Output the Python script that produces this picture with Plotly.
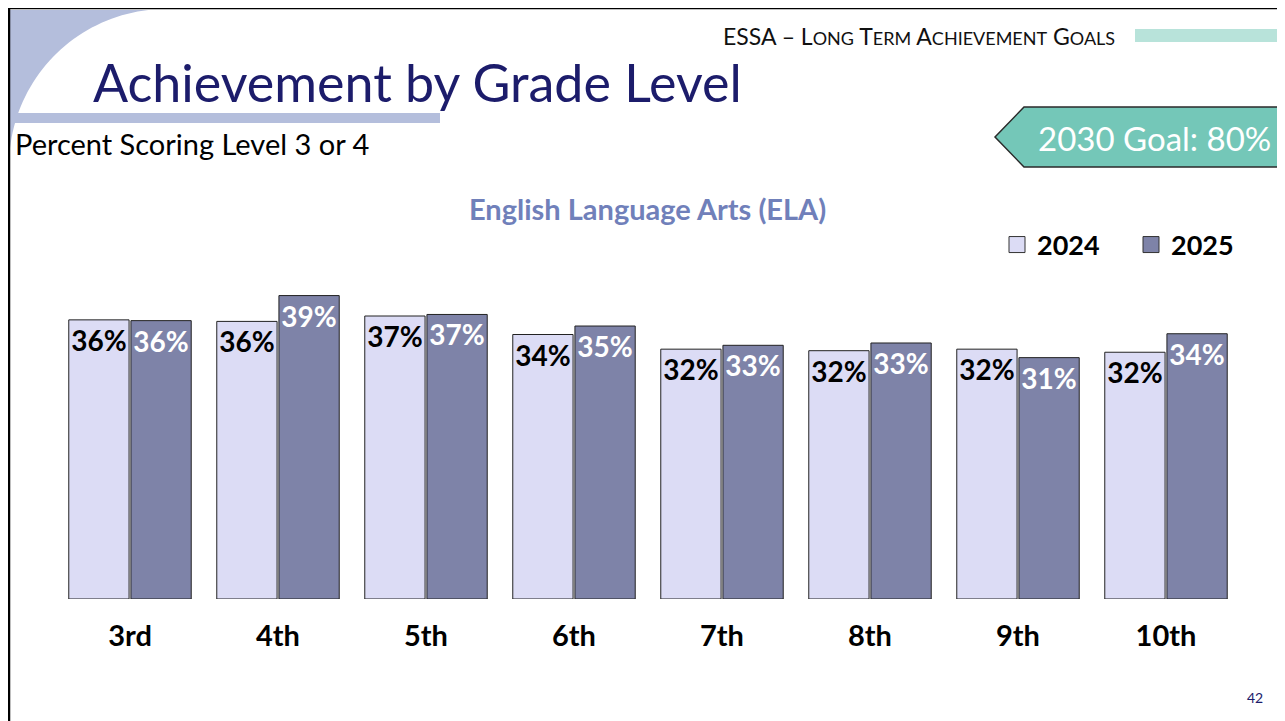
import numpy as np
import plotly.graph_objects as go

# ---------------- data ----------------
grades = ["3rd", "4th", "5th", "6th", "7th", "8th", "9th", "10th"]
years = ["2024", "2025"]
values_2024 = [36.2, 36.0, 36.7, 34.3, 32.4, 32.2, 32.4, 32.0]
values_2025 = [36.1, 39.35, 36.9, 35.4, 32.9, 33.2, 31.3, 34.4]
labels_2024 = ["36%", "36%", "37%", "34%", "32%", "32%", "32%", "32%"]
labels_2025 = ["36%", "39%", "37%", "35%", "33%", "33%", "31%", "34%"]
colors = ["#DCDCF5", "#7E83A8"]

# ---------------- layout geometry ----------------
W, H = 1285, 721
OFF = 8  # page body margin
# plot area in page pixels: x 56..1240, y 252..599
PL, PR, PT, PB = 56, 1240, 252, 599
ML, MT = PL - OFF, PT - OFF
MR = W - (PR - OFF)
MB = H - (PB - OFF)
PW = PR - PL
PH = PB - PT
FONT = "Lato"

def px(x):
    return (x - PL) / PW

def py(y):
    return (PB - y) / PH

fig = go.Figure()
fig.add_trace(go.Bar(
    x=grades, y=values_2024, name=years[0], text=labels_2024,
    textposition="inside", insidetextanchor="end", constraintext="none",
    textangle=0,
    textfont=dict(family=FONT, size=28, color="black", weight="bold"),
    marker=dict(color=colors[0], line=dict(color="#222222", width=1)),
    hoverinfo="skip", showlegend=False,
))
fig.add_trace(go.Bar(
    x=grades, y=values_2025, name=years[1], text=labels_2025,
    textposition="inside", insidetextanchor="end", constraintext="none",
    textangle=0,
    textfont=dict(family=FONT, size=28, color="white", weight="bold"),
    marker=dict(color=colors[1], line=dict(color="#222222", width=1)),
    hoverinfo="skip", showlegend=False,
))
# legend entries with larger square swatches
for yr, c in zip(years, colors):
    fig.add_trace(go.Scatter(
        x=[None], y=[None], mode="markers", name=yr,
        marker=dict(symbol="square", size=16, color=c,
                    line=dict(color="#333333", width=1)),
        showlegend=True,
    ))

shapes = []
# top-left decorative arc region (outside a circle centred at (166,166), r=157)
cx, cy, r = 166.0, 166.0, 157.0
a0 = np.arctan2(10 - cy, 148.3 - cx)
a1 = np.arctan2(148.0 - cy, 10 - cx)
angs = np.linspace(a0, a1 if a1 < a0 else a1 - 2 * np.pi, 40)
pts = [(cx + r * np.cos(a), cy + r * np.sin(a)) for a in angs]
path = f"M {px(10)},{py(10)} L {px(148.3)},{py(10)} "
path += " ".join(f"L {px(x)},{py(y)}" for x, y in pts)
path += f" L {px(10)},{py(148)} Z"
shapes.append(dict(type="path", xref="paper", yref="paper", path=path,
                   fillcolor="#B4BEDC", line=dict(width=0), layer="below"))
# horizontal band under title
shapes.append(dict(type="rect", xref="paper", yref="paper",
                   x0=px(10), x1=px(440), y0=py(123), y1=py(113),
                   fillcolor="#B4BEDC", line=dict(width=0), layer="below"))
# teal header band
shapes.append(dict(type="rect", xref="paper", yref="paper",
                   x0=px(1135), x1=px(1300), y0=py(42), y1=py(29),
                   fillcolor="#B8E3DA", line=dict(width=0), layer="below"))
# goal arrow box
gp = (f"M {px(995)},{py(137)} L {px(1024)},{py(107)} L {px(1300)},{py(107)} "
      f"L {px(1300)},{py(167)} L {px(1024)},{py(167)} Z")
shapes.append(dict(type="path", xref="paper", yref="paper", path=gp,
                   fillcolor="#74C7B8", line=dict(color="#2A2A2A", width=1.5),
                   layer="below"))
# slide border lines
shapes.append(dict(type="line", xref="paper", yref="paper",
                   x0=px(8), x1=px(1300), y0=py(8), y1=py(8),
                   line=dict(color="black", width=2.5)))
shapes.append(dict(type="line", xref="paper", yref="paper",
                   x0=px(9), x1=px(9), y0=py(8), y1=py(740),
                   line=dict(color="black", width=2.5)))

sc = 'font-size:18px'
header = (f'ESSA – L<span style="{sc}">ONG</span> T<span style="{sc}">ERM</span> '
          f'A<span style="{sc}">CHIEVEMENT</span> G<span style="{sc}">OALS</span>')

annotations = [
    dict(text=header, x=px(721), y=py(36), xanchor="left", yanchor="middle",
         font=dict(family=FONT, size=23, color="#111111")),
    dict(text="Achievement by Grade Level", x=px(91), y=py(82), xanchor="left",
         yanchor="middle", font=dict(family=FONT, size=52, color="#1C1C6B")),
    dict(text="Percent Scoring Level 3 or 4", x=px(13), y=py(143), xanchor="left",
         yanchor="middle", font=dict(family=FONT, size=29, color="black")),
    dict(text="2030 Goal: 80%", x=px(1154), y=py(138), xanchor="center",
         yanchor="middle", font=dict(family=FONT, size=33, color="white")),
    dict(text="<b>English Language Arts (ELA)</b>", x=px(647), y=py(208),
         xanchor="center", yanchor="middle",
         font=dict(family=FONT, size=29, color="#7080BA")),
    dict(text="42", x=px(1255), y=py(697), xanchor="center", yanchor="middle",
         font=dict(family=FONT, size=14, color="#1C1C6B")),
]
for a in annotations:
    a.update(xref="paper", yref="paper", showarrow=False)

fig.update_layout(
    width=W, height=H, autosize=False,
    margin=dict(l=ML, r=MR, t=MT, b=MB, pad=0, autoexpand=False),
    paper_bgcolor="white", plot_bgcolor="white",
    barmode="group", bargap=0.16, bargroupgap=0.03,
    shapes=shapes, annotations=annotations,
    showlegend=True,
    legend=dict(orientation="h", xref="paper", yref="paper",
                x=px(997), y=py(245), xanchor="left", yanchor="middle",
                font=dict(family=FONT, size=27, color="black", weight="bold"),
                bgcolor="rgba(0,0,0,0)", entrywidth=89, itemclick=False,
                itemwidth=30),
    xaxis=dict(showgrid=False, zeroline=False, showline=False, ticks="",
               ticklabelstandoff=17, fixedrange=True,
               tickfont=dict(family=FONT, size=29, color="black", weight="bold")),
    yaxis=dict(range=[0, 45], visible=False, showgrid=False, zeroline=False,
               fixedrange=True),
)

fig.write_html("out.html")
